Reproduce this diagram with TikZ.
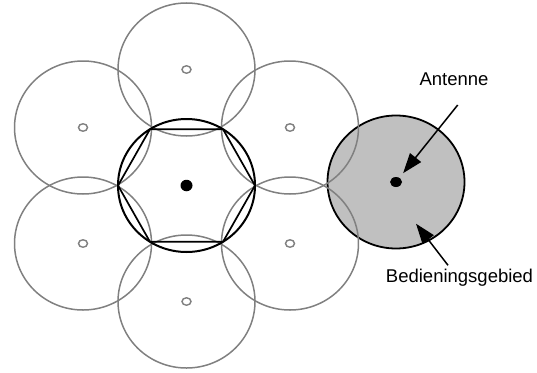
\documentclass[tikz,border=0pt]{standalone}
\usepackage{fontspec}
\setmainfont{Liberation Sans}
\definecolor{cellgray}{RGB}{128,128,128}
\definecolor{zonegray}{RGB}{192,192,192}
\usetikzlibrary{arrows.meta,positioning,calc,shapes.geometric}

\begin{document}
\begin{tikzpicture}[
  x=1pt,y=-1pt,
  every node/.style={inner sep=0pt,outer sep=0pt},
  cell/.style={ellipse,draw=cellgray,line width=1.5pt,minimum width=137pt,minimum height=133pt},
  hub/.style={cell,draw=black,line width=2pt},
  zone/.style={cell,draw=black,fill=zonegray,line width=1.8pt},
  mast/.style={ellipse,draw=cellgray,line width=1.4pt,minimum width=9pt,minimum height=7.5pt},
  hubmast/.style={ellipse,fill=black,minimum width=12pt,minimum height=11.5pt},
  lbl/.style={font=\fontsize{18.5}{22}\selectfont},
  pointer/.style={-{Triangle[length=20pt,width=14pt]},line width=1.5pt}
]
\useasboundingbox (0,0) rectangle (537,372);
\coordinate (ctr) at (186.5,185.5);

% served area on the right
\node[zone] (zone) at (396,182) {};

% ring of neighbouring cells
\foreach \a [count=\i] in {30,90,...,330}{
  \node[cell] (cell\i) at ($(ctr)+(\a:119.5 and 116)$) {};
  \node[mast] (mast\i) at (cell\i) {};
}

% central cell with its hexagon
\node[hub] (hub) at (ctr) {};
\draw[line width=1.7pt,line join=round] (hub.0) -- (hub.57) -- (hub.123) -- (hub.180) -- (hub.237) -- (hub.303) -- cycle;
\node[hubmast] (hubmast) at (ctr) {};
\node[hubmast,minimum height=10pt] (zonemast) at (zone) {};

% labels
\node[lbl,anchor=base] (antlbl) at (454,85) {Antenne};
\node[lbl,anchor=base] (bedlbl) at (459.5,282.7) {Bedieningsgebied};
\coordinate (anttail) at (457.7,105);
\coordinate (zonept) at (416,223.7);
\draw[pointer,shorten >=6pt] (anttail) -- (zonemast);
\draw[pointer] ([xshift=-11.5pt,yshift=4pt]bedlbl.north) -- (zonept);
\end{tikzpicture}
\end{document}
